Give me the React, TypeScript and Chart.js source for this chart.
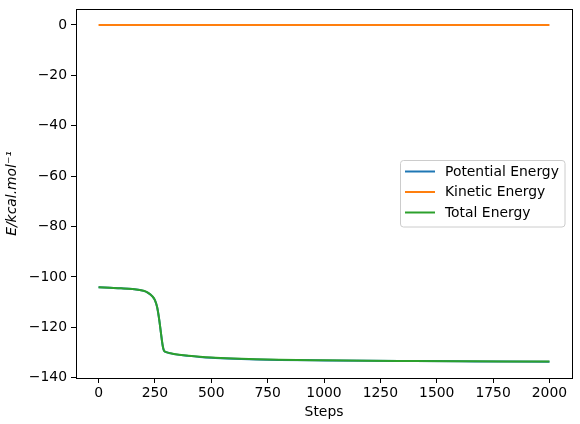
import React, { useEffect, useRef } from "react";
import { Chart, registerables } from "chart.js";

Chart.register(...registerables);

const steps = [0, 50, 100, 150, 200, 220, 240, 250, 260, 265, 270, 275, 280, 285, 290, 300, 320, 350, 400, 450, 500, 600, 700, 800, 1000, 1200, 1400, 1600, 1800, 2000];
const totalEnergy = [-104.1, -104.3, -104.5, -104.8, -105.5, -106.3, -107.8, -109.2, -112.0, -114.5, -117.5, -121.0, -124.5, -127.5, -129.2, -129.8, -130.3, -130.8, -131.3, -131.7, -132.0, -132.4, -132.7, -132.9, -133.1, -133.25, -133.35, -133.45, -133.55, -133.6];
const potentialEnergy = [-104.12, -104.32, -104.52, -104.82, -105.52, -106.32, -107.82, -109.22, -112.02, -114.52, -117.52, -121.02, -124.52, -127.52, -129.22, -129.82, -130.32, -130.82, -131.32, -131.72, -132.02, -132.42, -132.72, -132.92, -133.12, -133.27, -133.37, -133.47, -133.57, -133.62];
const kineticEnergy = [0.02, 0.02, 0.02, 0.02, 0.02, 0.02, 0.02, 0.02, 0.02, 0.02, 0.02, 0.02, 0.02, 0.02, 0.02, 0.02, 0.02, 0.02, 0.02, 0.02, 0.02, 0.02, 0.02, 0.02, 0.02, 0.02, 0.02, 0.02, 0.02, 0.02];
const seriesLabels = ["Potential Energy", "Kinetic Energy", "Total Energy"];
const seriesColors = ["#1f77b4", "#ff7f0e", "#2ca02c"];
const xTickValues = [0, 250, 500, 750, 1000, 1250, 1500, 1750, 2000];
const yTickValues = [0, -20, -40, -60, -80, -100, -120, -140];

const FONT = "'DejaVu Sans', sans-serif";
const FS = 13.9;

const framePlugin = {
  id: "frame",
  afterDraw(chart: any) {
    const { ctx, chartArea } = chart;
    ctx.save();
    ctx.strokeStyle = "#000";
    ctx.lineWidth = 1;
    ctx.strokeRect(
      Math.round(chartArea.left) + 0.5,
      Math.round(chartArea.top) + 0.5,
      Math.round(chartArea.right - chartArea.left),
      Math.round(chartArea.bottom - chartArea.top)
    );
    ctx.restore();

    // legend
    const bx = 400.5, by = 160.5, bw = 164.5, bh = 66.5, r = 3;
    ctx.save();
    ctx.beginPath();
    ctx.moveTo(bx + r, by);
    ctx.lineTo(bx + bw - r, by);
    ctx.quadraticCurveTo(bx + bw, by, bx + bw, by + r);
    ctx.lineTo(bx + bw, by + bh - r);
    ctx.quadraticCurveTo(bx + bw, by + bh, bx + bw - r, by + bh);
    ctx.lineTo(bx + r, by + bh);
    ctx.quadraticCurveTo(bx, by + bh, bx, by + bh - r);
    ctx.lineTo(bx, by + r);
    ctx.quadraticCurveTo(bx, by, bx + r, by);
    ctx.closePath();
    ctx.fillStyle = "rgba(255,255,255,0.8)";
    ctx.fill();
    ctx.strokeStyle = "#cccccc";
    ctx.lineWidth = 1;
    ctx.stroke();
    seriesLabels.forEach((label: string, i: number) => {
      const y = 171.5 + i * 20.5;
      ctx.beginPath();
      ctx.moveTo(405, y);
      ctx.lineTo(435, y);
      ctx.strokeStyle = seriesColors[i];
      ctx.lineWidth = 2;
      ctx.stroke();
      ctx.fillStyle = "#000";
      ctx.font = `${FS}px ${FONT}`;
      ctx.textBaseline = "middle";
      ctx.textAlign = "left";
      ctx.fillText(label, 445, y + 0.5);
    });
    ctx.restore();
  },
};

export default function App() {
  const ref = useRef<HTMLCanvasElement | null>(null);
  useEffect(() => {
    if (!ref.current) return;
    const mk = (vals: number[]) => steps.map((s, i) => ({ x: s, y: vals[i] }));
    const data = [potentialEnergy, kineticEnergy, totalEnergy];
    const orders = [3, 2, 1];
    const chart = new Chart(ref.current, {
      type: "line",
      data: {
        datasets: data.map((vals, i) => ({
          label: seriesLabels[i],
          data: mk(vals),
          borderColor: seriesColors[i],
          backgroundColor: seriesColors[i],
          borderWidth: 2,
          pointRadius: 0,
          order: orders[i],
          cubicInterpolationMode: "monotone" as const,
          fill: false,
        })),
      },
      options: {
        responsive: false,
        animation: false,
        devicePixelRatio: 1,
        layout: { padding: { top: 9, right: 8, left: 0, bottom: 0 } },
        plugins: { legend: { display: false }, tooltip: { enabled: false } },
        scales: {
          x: {
            type: "linear",
            min: -100,
            max: 2100,
            afterFit: (s: any) => { s.height = 46; s.paddingLeft = 0; s.paddingRight = 0; },
            afterBuildTicks: (s: any) => { s.ticks = xTickValues.map((v) => ({ value: v })); },
            grid: { display: true, drawOnChartArea: false, drawTicks: true, tickLength: 5, color: "#000", tickColor: "#000" },
            border: { display: true, color: "#000" },
            ticks: { color: "#000", padding: 2, font: { family: FONT, size: FS }, maxRotation: 0, autoSkip: false, callback: (v: any) => String(v) },
            title: { display: true, text: "Steps", color: "#000", font: { family: FONT, size: FS }, padding: { top: 0, bottom: 3 } },
          },
          y: {
            type: "linear",
            min: -140.1,
            max: 6.35,
            afterFit: (s: any) => { s.width = 76; s.paddingTop = 0; s.paddingBottom = 0; },
            afterBuildTicks: (s: any) => { s.ticks = yTickValues.map((v) => ({ value: v })); },
            grid: { display: true, drawOnChartArea: false, drawTicks: true, tickLength: 5, color: "#000", tickColor: "#000" },
            border: { display: true, color: "#000" },
            ticks: { color: "#000", padding: 4, font: { family: FONT, size: FS }, autoSkip: false, callback: (v: any) => String(v).replace("-", "\u2212") },
            title: { display: true, text: "E/kcal.mol\u207B\u00B9", color: "#000", font: { family: FONT, size: FS, style: "italic" }, padding: { top: 4, bottom: 0 } },
          },
        },
      },
      plugins: [framePlugin],
    });
    return () => chart.destroy();
  }, []);
  return (
    <div style={{ position: "fixed", left: 0, top: 0, width: 580, height: 424, background: "#fff" }}>
      <canvas ref={ref} width={580} height={424} style={{ width: 580, height: 424 }} />
    </div>
  );
}
